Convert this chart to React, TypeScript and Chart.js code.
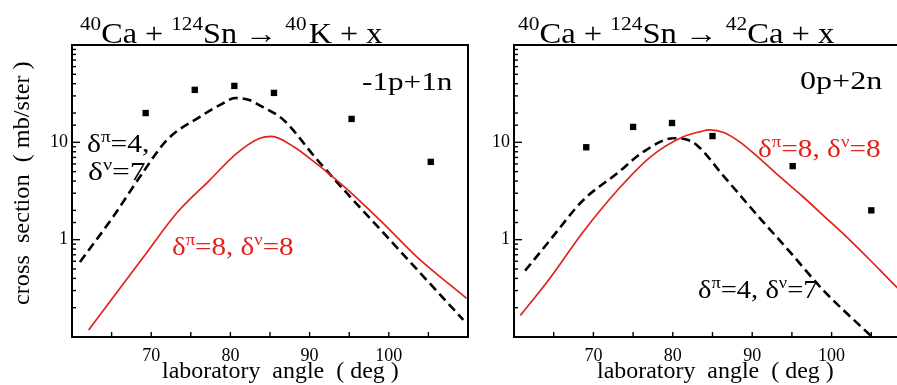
import React, { useEffect, useRef } from 'react';
import { Chart, registerables } from 'chart.js';

Chart.register(...registerables);

const FONT = '"Liberation Serif", "Times New Roman", Times, serif';
const RED = '#e3211c';
const BLACK = '#000000';

// ---- axes ----
const X_MIN = 60;
const X_MAX = 110;
const X_STEP = 5;
const Y_MIN = 0.1;
const Y_MAX = 100;
const X_TICK_LABELS = [70, 80, 90, 100];
const Y_TICK_LABELS = [1, 10];

// ---- left panel: 40Ca + 124Sn -> 40K + x  (-1p+1n) ----
const leftExpAngle = [69.3, 75.5, 80.5, 85.5, 95.3, 105.3];
const leftExpXs = [20.0, 34.6, 38.0, 32.2, 17.4, 6.3];

const leftD47Angle = [61.0, 65.2, 68.6, 72.0, 76.2, 79.0, 80.6, 82.5, 83.7, 86.7, 90.9, 95.1, 99.3, 103.5, 109.4];
const leftD47Xs = [0.59, 1.72, 4.45, 10.6, 18.4, 25.0, 28.5, 27.0, 24.0, 17.0, 6.7, 2.77, 1.18, 0.5, 0.15];

const leftD88Angle = [62.1, 64.8, 69.0, 73.2, 77.4, 80.8, 83.7, 85.2, 88.0, 90.9, 92.4, 95.1, 99.3, 103.5, 109.8];
const leftD88Xs = [0.118, 0.232, 0.66, 1.87, 4.1, 7.7, 11.0, 11.5, 9.0, 6.0, 4.8, 3.1, 1.47, 0.67, 0.25];

// ---- right panel: 40Ca + 124Sn -> 42Ca + x  (0p+2n) ----
const rightExpAngle = [69.1, 75.0, 79.9, 85.0, 95.1, 105.0];
const rightExpXs = [8.9, 14.4, 15.8, 11.6, 5.7, 2.0];

const rightD47Angle = [61.4, 64.5, 68.7, 73.0, 76.3, 80.1, 81.5, 83.0, 86.4, 90.6, 94.8, 99.0, 105.1];
const rightD47Xs = [0.48, 0.98, 2.54, 4.8, 8.0, 11.0, 10.8, 9.4, 4.5, 1.8, 0.74, 0.3, 0.1];

const rightD88Angle = [60.8, 64.5, 68.7, 73.0, 77.2, 81.3, 83.5, 84.7, 86.4, 88.5, 90.6, 93.0, 96.4, 99.0, 102.3, 105.0, 108.3, 110.0];
const rightD88Xs = [0.166, 0.4, 1.2, 3.2, 7.1, 11.4, 12.9, 13.4, 12.6, 10.0, 7.2, 4.8, 2.76, 1.76, 0.99, 0.6, 0.32, 0.24];

type Seg = { t: string; sup?: boolean; gap?: number };
type TextItem = {
  segs: Seg[];
  size: number;
  supSize?: number;
  rise?: number;
  width?: number;
  color: string;
  rotate?: boolean;
  pos: (c: any) => [number, number];
};

const zip = (xs: number[], ys: number[]) => xs.map((x, i) => ({ x, y: ys[i] }));

function drawText(ctx: CanvasRenderingContext2D, item: TextItem, px: number, py: number) {
  ctx.save();
  ctx.textBaseline = 'alphabetic';
  ctx.textAlign = 'left';
  ctx.fillStyle = item.color;
  const sup = item.supSize ?? Math.round(item.size * 0.6);
  const rise = item.rise ?? item.size * 0.4;
  const ms = item.segs.map((s) => {
    ctx.font = `${s.sup ? sup : item.size}px ${FONT}`;
    return ctx.measureText(s.t);
  });
  const xs: number[] = [];
  let cx = 0;
  item.segs.forEach((s, i) => {
    xs.push(cx);
    cx += ms[i].width + (s.gap || 0);
  });
  const inkL = Math.min(...ms.map((m, i) => xs[i] - m.actualBoundingBoxLeft));
  const inkR = Math.max(...ms.map((m, i) => xs[i] + m.actualBoundingBoxRight));
  const sx = item.width ? item.width / (inkR - inkL) : 1;
  ctx.translate(px, py);
  if (item.rotate) ctx.rotate(-Math.PI / 2);
  ctx.scale(sx, 1);
  ctx.translate(-inkL, 0);
  item.segs.forEach((s, i) => {
    ctx.font = `${s.sup ? sup : item.size}px ${FONT}`;
    ctx.fillText(s.t, xs[i], s.sup ? -rise : 0);
  });
  ctx.restore();
}

type Panel = {
  left: number;
  width: number;
  yAxisWidth: number;
  padRight: number;
  expAngle: number[];
  expXs: number[];
  d47Angle: number[];
  d47Xs: number[];
  d88Angle: number[];
  d88Xs: number[];
  texts: TextItem[];
};

const dataPos = (x: number, y: number) => (c: any): [number, number] => [
  c.scales.x.getPixelForValue(x),
  c.scales.y.getPixelForValue(y),
];

const leftTexts: TextItem[] = [
  {
    segs: [{ t: '40', sup: true }, { t: 'Ca + ' }, { t: '124', sup: true }, { t: 'Sn \u2192 ' }, { t: '40', sup: true, gap: 2 }, { t: 'K + x' }],
    size: 29, supSize: 19, rise: 13, width: 303, color: BLACK,
    pos: (c) => [c.chartArea.left + 8, c.chartArea.top - 1.7],
  },
  { segs: [{ t: '-1p+1n' }], size: 25, width: 91, color: BLACK, pos: dataPos(96.62, 34.5) },
  { segs: [{ t: '\u03b4' }, { t: '\u03c0', sup: true }, { t: '=4,' }], size: 25, supSize: 16, rise: 10, width: 61, color: BLACK, pos: dataPos(61.89, 7.96) },
  { segs: [{ t: '\u03b4' }, { t: '\u03bd', sup: true }, { t: '=7' }], size: 25, supSize: 16, rise: 10, width: 57, color: BLACK, pos: dataPos(62.02, 4.1) },
  {
    segs: [{ t: '\u03b4' }, { t: '\u03c0', sup: true }, { t: '=8, \u03b4' }, { t: '\u03bd', sup: true }, { t: '=8' }],
    size: 25, supSize: 16, rise: 10, width: 121, color: RED, pos: dataPos(72.63, 0.688),
  },
  { segs: [{ t: 'laboratory  angle  ( deg )' }], size: 23, width: 236, color: BLACK, pos: (c) => [c.chartArea.left + 90, c.chartArea.bottom + 40.5] },
  { segs: [{ t: 'cross  section  ( mb/ster )' }], size: 23, width: 243, color: BLACK, rotate: true, pos: () => [28.5, 305] },
];

const rightTexts: TextItem[] = [
  {
    segs: [{ t: '40', sup: true }, { t: 'Ca + ' }, { t: '124', sup: true }, { t: 'Sn \u2192 ' }, { t: '42', sup: true }, { t: 'Ca + x' }],
    size: 29, supSize: 19, rise: 13, width: 317, color: BLACK,
    pos: (c) => [c.chartArea.left + 4, c.chartArea.top - 1.7],
  },
  { segs: [{ t: '0p+2n' }], size: 25, width: 83, color: BLACK, pos: dataPos(96.02, 34.9) },
  {
    segs: [{ t: '\u03b4' }, { t: '\u03c0', sup: true }, { t: '=8, \u03b4' }, { t: '\u03bd', sup: true }, { t: '=8' }],
    size: 25, supSize: 16, rise: 10, width: 122, color: RED, pos: dataPos(90.73, 7.07),
  },
  {
    segs: [{ t: '\u03b4' }, { t: '\u03c0', sup: true }, { t: '=4, \u03b4' }, { t: '\u03bd', sup: true }, { t: '=7' }],
    size: 25, supSize: 16, rise: 10, width: 119, color: BLACK, pos: dataPos(83.17, 0.2516),
  },
  { segs: [{ t: 'laboratory  angle  ( deg )' }], size: 23, width: 236, color: BLACK, pos: (c) => [c.chartArea.left + 83, c.chartArea.bottom + 40.5] },
];

const PANELS: Panel[] = [
  {
    left: 0, width: 480, yAxisWidth: 72, padRight: 12,
    expAngle: leftExpAngle, expXs: leftExpXs,
    d47Angle: leftD47Angle, d47Xs: leftD47Xs,
    d88Angle: leftD88Angle, d88Xs: leftD88Xs,
    texts: leftTexts,
  },
  {
    left: 480, width: 440, yAxisWidth: 34, padRight: 9,
    expAngle: rightExpAngle, expXs: rightExpXs,
    d47Angle: rightD47Angle, d47Xs: rightD47Xs,
    d88Angle: rightD88Angle, d88Xs: rightD88Xs,
    texts: rightTexts,
  },
];

function decor(p: Panel) {
  return {
    id: 'decor',
    afterDraw(chart: any) {
      const { ctx, chartArea: a, scales } = chart;
      ctx.save();
      ctx.strokeStyle = BLACK;
      ctx.lineWidth = 2;
      ctx.strokeRect(a.left, a.top, a.right - a.left, a.bottom - a.top);
      ctx.lineWidth = 1.4;
      const xs = scales.x;
      for (const t of xs.ticks) {
        const v = t.value;
        if (v <= xs.min || v >= xs.max) continue;
        const px = xs.getPixelForValue(v);
        ctx.beginPath();
        ctx.moveTo(px, a.bottom);
        ctx.lineTo(px, a.bottom - 5);
        ctx.stroke();
      }
      const ys = scales.y;
      for (const t of ys.ticks) {
        const v = t.value;
        if (v <= ys.min * 1.0001 || v >= ys.max * 0.9999) continue;
        const lg = Math.log10(v);
        const major = Math.abs(lg - Math.round(lg)) < 1e-6;
        const py = ys.getPixelForValue(v);
        ctx.beginPath();
        ctx.moveTo(a.left, py);
        ctx.lineTo(a.left + (major ? 8 : 4), py);
        ctx.stroke();
      }
      ctx.restore();
      for (const item of p.texts) {
        const [x, y] = item.pos(chart);
        drawText(ctx, item, x, y);
      }
    },
  };
}

function buildConfig(p: Panel): any {
  return {
    type: 'scatter',
    data: {
      datasets: [
        {
          label: 'experiment',
          data: zip(p.expAngle, p.expXs),
          showLine: false,
          pointStyle: 'rect',
          pointRadius: 4.5,
          pointHoverRadius: 4.5,
          backgroundColor: BLACK,
          borderWidth: 0,
        },
        {
          label: '\u03b4\u03c0=8, \u03b4\u03bd=8',
          data: zip(p.d88Angle, p.d88Xs),
          showLine: true,
          borderColor: RED,
          borderWidth: 1.7,
          pointRadius: 0,
          cubicInterpolationMode: 'monotone',
          fill: false,
        },
        {
          label: '\u03b4\u03c0=4, \u03b4\u03bd=7',
          data: zip(p.d47Angle, p.d47Xs),
          showLine: true,
          borderColor: BLACK,
          borderWidth: 2.6,
          borderDash: [9, 5],
          pointRadius: 0,
          cubicInterpolationMode: 'monotone',
          fill: false,
        },
      ],
    },
    options: {
      responsive: false,
      animation: false,
      events: [],
      layout: { padding: { left: 0, top: 45, right: p.padRight, bottom: 0 } },
      plugins: { legend: { display: false }, tooltip: { enabled: false }, title: { display: false } },
      scales: {
        x: {
          type: 'linear',
          min: X_MIN,
          max: X_MAX,
          grid: { display: false, drawTicks: false },
          border: { display: false },
          ticks: {
            stepSize: X_STEP,
            autoSkip: false,
            maxRotation: 0,
            padding: 8,
            color: BLACK,
            font: { family: FONT, size: 18 },
            callback: (v: number) => (X_TICK_LABELS.includes(v) ? String(v) : ''),
          },
          afterFit: (s: any) => {
            s.height = 48;
          },
        },
        y: {
          type: 'logarithmic',
          min: Y_MIN,
          max: Y_MAX,
          grid: { display: false, drawTicks: false },
          border: { display: false },
          ticks: {
            autoSkip: false,
            padding: 4,
            color: BLACK,
            font: { family: FONT, size: 18 },
            callback: (v: number) => {
              const hit = Y_TICK_LABELS.find((t) => Math.abs(t - v) < 1e-9);
              return hit !== undefined ? String(hit) : '';
            },
          },
          afterFit: (s: any) => {
            s.width = p.yAxisWidth;
          },
        },
      },
    },
    plugins: [decor(p)],
  };
}

function PanelChart({ p }: { p: Panel }) {
  const ref = useRef<HTMLCanvasElement>(null);
  useEffect(() => {
    const chart = new Chart(ref.current as HTMLCanvasElement, buildConfig(p));
    return () => chart.destroy();
  }, [p]);
  return (
    <canvas
      ref={ref}
      width={p.width}
      height={385}
      style={{ position: 'absolute', left: p.left, top: 0, width: p.width, height: 385, display: 'block' }}
    />
  );
}

export default function App() {
  return (
    <div
      style={{
        position: 'fixed',
        left: 0,
        top: 0,
        width: 897,
        height: 385,
        overflow: 'hidden',
        background: '#ffffff',
      }}
    >
      {PANELS.map((p, i) => (
        <PanelChart key={i} p={p} />
      ))}
    </div>
  );
}
